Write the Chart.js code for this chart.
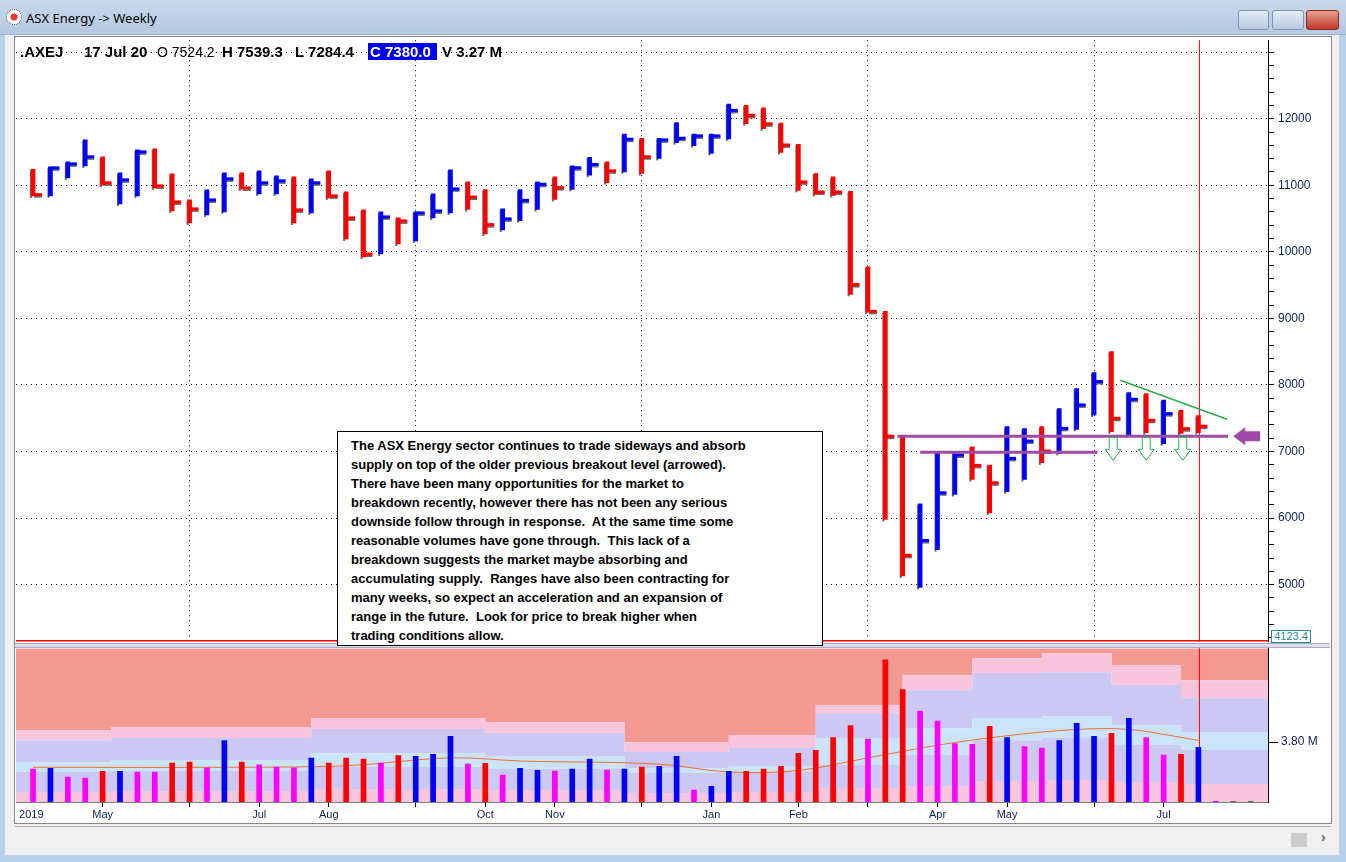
<!DOCTYPE html>
<html><head><meta charset="utf-8">
<script src="https://cdn.jsdelivr.net/npm/chart.js@4.4.1/dist/chart.umd.min.js"></script>
<style>
html,body{margin:0;padding:0;width:1346px;height:862px;overflow:hidden;background:#f0f0f0;font-family:"Liberation Sans",Arial,sans-serif}
#title{position:absolute;left:0;top:0;width:1346px;height:34px;background:linear-gradient(#c9d9ec,#b4c8e2);border-bottom:1px solid #9fb3cc;z-index:4}
#title .t{position:absolute;left:26px;top:9px;font:13px "Noto Sans",sans-serif;color:#000}
#icon{position:absolute;left:6px;top:9px;width:14px;height:14px;border-radius:50%;border:1px dotted #333;background:radial-gradient(circle,#e33 0 3px,#fff 4px)}
.btn{position:absolute;top:10px;height:18px;border:1px solid #7d93b0;border-radius:3px;background:linear-gradient(#e4edf8,#b7c9e0)}
#frameL{position:absolute;left:0;top:35px;width:5px;height:827px;background:#b9d1ea}
#frameR{position:absolute;right:0;top:35px;width:7px;height:827px;background:#b9d1ea}
#frameB{position:absolute;left:0;top:855px;width:1346px;height:7px;background:#b9d1ea}
#white{position:absolute;left:14px;top:36px;width:1316px;height:786px;background:#fff;border:1px solid #888}
#hdr{position:absolute;left:20px;top:43px;font:bold 15px "Liberation Sans",Arial;white-space:pre;color:#000;z-index:3}
#hdr span{position:absolute;top:0}
#box{position:absolute;left:337px;top:431px;width:457px;height:201px;border:1px solid #000;background:#fff;padding:4px 14px 8px 13px;font:bold 13px "Liberation Sans",Arial;line-height:19px;color:#000;white-space:nowrap;z-index:5}
#sep{position:absolute;left:15px;top:643px;width:1315px;height:3px;border-top:1px solid #aab;border-bottom:1px solid #aab;background:#dde;z-index:3}
#lbl4123{position:absolute;left:1271px;top:630px;width:38px;height:11px;border:1px solid #2a8a8a;background:#fff;font:11px "Liberation Sans";color:#2a8a8a;text-align:center;line-height:11px;overflow:hidden;z-index:3}
#scroll{position:absolute;left:15px;top:826px;width:1316px;height:24px;background:#f0f0f0;border-top:1px solid #aaa;z-index:3}
</style></head><body>
<div id="title"><div id="icon"></div><div class="t">ASX Energy -&gt; Weekly</div>
<div class="btn" style="left:1238px;width:29px"></div>
<div class="btn" style="left:1272px;width:30px"></div>
<div class="btn" style="left:1306px;width:31px;background:linear-gradient(#e8a090,#c0392b);border-color:#8a2a1a"></div>
</div>
<div id="frameL"></div><div id="frameR"></div><div id="frameB"></div>
<div id="white"></div>
<canvas id="pc" width="1314" height="624" style="position:absolute;left:16px;top:29px"></canvas>
<div id="sep"></div>
<div id="lbl4123">4123.4</div>
<canvas id="vc" width="1314" height="188" style="position:absolute;left:16px;top:638px"></canvas>
<div id="scroll"><div style="position:absolute;left:1276px;top:6px;width:16px;height:14px;background:#ccc"></div><div style="position:absolute;left:1306px;top:2px;font:bold 14px sans-serif;color:#666">&#8250;</div></div>
<div id="hdr"><span style="left:0">.AXEJ</span><span style="left:64px">17 Jul 20</span><span style="left:137px;font-weight:normal;font-size:14px;top:1px">O 7524.2</span><span style="left:202px">H 7539.3</span><span style="left:275px">L 7284.4</span><span style="left:348px;background:#0000f0;color:#fff;padding:0 6px 0 2px">C 7380.0</span><span style="left:422px">V 3.27 M</span></div>
<div id="box">The ASX Energy sector continues to trade sideways and absorb<br>supply on top of the older previous breakout level (arrowed).<br>There have been many opportunities for the market to<br>breakdown recently, however there has not been any serious<br>downside follow through in response.&nbsp; At the same time some<br>reasonable volumes have gone through.&nbsp; This lack of a<br>breakdown suggests the market maybe absorbing and<br>accumulating supply.&nbsp; Ranges have also been contracting for<br>many weeks, so expect an acceleration and an expansion of<br>range in the future.&nbsp; Look for price to break higher when<br>trading conditions allow.</div>
<script>
const opens=[11230,10850,11150,11300,11420,10730,10850,11540,11160,10770,10570,10610,11180,10880,10880,11120,10600,11210,10890,10620,9980,10500,10170,10520,10600,11000,10900,10400,10500,10700,11100,10980,11200,11300,11250,11650,11450,11700,11620,11700,11750,12180,12150,11900,11600,11150,11100,10900,9750,9090,7200,5100,5600,6450,7000,6750,6450,6700,7300,7000,7350,7700,8450,7400,7800,7200,7580,7524.2];
const highs=[11240,11277,11353,11684,11428,11187,11533,11548,11172,10780,10931,11187,11187,11217,11142,11127,11097,11217,10901,10630,10600,10510,10600,10871,11232,11051,10934,10646,10934,11051,11126,11293,11419,11354,11768,11707,11707,11944,11768,11768,12222,12202,12162,11934,11616,11177,11126,10909,9774,9105,7221,6214,7000,6992,7072,6796,7374,7343,7374,7645,7946,8187,8503,7886,7871,7771,7620,7539.3];
const lows=[10840,10841,11112,11292,11006,10720,10841,10961,10615,10434,10555,10600,10946,10871,10871,10434,10585,10810,10194,9923,9968,10118,10163,10510,10585,10636,10268,10328,10470,10636,10788,10939,11151,11040,11202,11177,11404,11641,11596,11480,11697,11924,11849,11495,10924,10864,10848,9362,9095,5980,5130,4959,5526,6354,6580,6078,6395,6580,6831,6972,7333,7549,7298,7233,7283,7118,7273,7284.4];
const closes=[10860,11262,11322,11428,11037,11082,11503,10991,10750,10645,10780,11097,10961,11037,11067,10630,11037,10841,10510,9968,10525,10465,10585,10615,10946,10823,10409,10495,10773,11015,10965,11263,11313,11217,11692,11429,11682,11707,11742,11742,12126,12051,11924,11606,11051,10899,10899,9508,9105,7230,5440,5662,6380,6947,6791,6530,6897,7157,7007,7348,7700,8051,7499,7785,7469,7569,7343,7380.0];
const volumes=[2.09,2.13,1.58,1.52,1.94,1.94,1.90,1.90,2.47,2.53,2.17,3.90,2.53,2.36,2.22,2.17,2.79,2.47,2.79,2.72,2.47,2.95,2.89,3.02,4.16,2.41,2.45,1.71,2.13,2.00,1.96,2.09,2.72,2.03,2.09,2.22,2.26,2.89,0.76,0.99,1.94,1.94,2.09,2.26,3.08,3.27,4.09,4.85,3.99,9.01,7.13,5.76,5.13,3.71,3.65,4.79,4.09,3.52,3.42,3.90,4.98,4.16,4.35,5.30,4.09,2.98,3.02,3.46,0.05,0.05,0.05];
const volKind=['m','b','m','m','r','b','m','m','r','r','m','b','r','m','m','m','b','r','r','r','m','r','b','b','b','m','r','m','b','b','m','b','b','m','b','r','b','b','m','b','b','r','r','r','r','r','r','r','m','r','r','m','m','m','m','r','b','m','m','b','b','b','r','b','m','m','r','b','m','g','g'];
const bandIdx=[-1,10,22,30,38,42,48,52,56,60,64,68,71.5];
const band1=[4.56,4.75,5.32,5.06,3.80,4.24,6.14,8.04,9.12,9.43,8.67,7.72,7.72];
const band2=[3.92,4.05,4.62,4.37,3.17,3.42,5.63,7.09,8.17,8.23,7.41,6.58,6.58];
const band3=[2.53,2.66,3.10,2.91,2.15,2.28,4.05,4.68,5.32,5.44,4.87,4.43,4.43];
const band4=[1.90,1.96,2.22,2.09,1.84,1.90,2.34,2.98,3.92,4.05,3.61,3.29,3.29];
const band5=[0.63,0.70,0.82,0.76,0.57,0.63,0.89,1.01,1.33,1.39,1.27,1.14,1.14];
const maIdx=[0,10,18,24,28,36,40,44,48,52,56,60,63,66,67];
const maVals=[2.2,2.2,2.3,2.8,2.6,2.4,1.9,2.0,2.8,3.6,4.2,4.6,4.6,4.1,3.9];
const monthTicks={'-0.1':'2019','4':'May','9':'','13':'Jul','17':'Aug','22':'','26':'Oct','30':'Nov','35':'','39':'Jan','44':'Feb','48':'','52':'Apr','56':'May','61':'','65':'Jul'};
const quarterIdx=[9,22,35,48,61];
const supportLevel=7230, oldLevel=6990, currentIdx=67;

const RED='#ff0000',BLUE='#0000ff',MAG='#ff00ff';
const XMIN=-0.98,XMAX=71.0;
const tickFont={family:'"Liberation Sans",Arial',size:12};

const pricePlugin={id:'pp',
 beforeDatasetsDraw(c){const ctx=c.ctx,x=c.scales.x,y=c.scales.y;ctx.save();ctx.fillStyle='#6a6a6a';
  highs.forEach((h,i)=>{const px=x.getPixelForValue(i);const t=y.getPixelForValue(h),b=y.getPixelForValue(lows[i]);ctx.fillRect(px-3,t+1,2,b-t+1);const cy=y.getPixelForValue(closes[i]);ctx.fillRect(px+1,cy+0.5,8,2.5);});ctx.restore();},
 afterDatasetsDraw(c){const ctx=c.ctx,x=c.scales.x,y=c.scales.y,a=c.chartArea;ctx.save();
  closes.forEach((v,i)=>{const px=x.getPixelForValue(i),cy=y.getPixelForValue(v);ctx.fillStyle=v>=opens[i]?BLUE:RED;ctx.fillRect(px+1,cy-1.5,8,3);});
  const cx=x.getPixelForValue(currentIdx)+1;ctx.strokeStyle=RED;ctx.lineWidth=1;ctx.beginPath();ctx.moveTo(cx,a.top);ctx.lineTo(cx,a.bottom);ctx.stroke();
  ctx.strokeStyle='#a04aa8';ctx.lineWidth=3;
  let ys=y.getPixelForValue(supportLevel);ctx.beginPath();ctx.moveTo(x.getPixelForValue(49.7),ys);ctx.lineTo(x.getPixelForValue(68.7),ys);ctx.stroke();
  let yo=y.getPixelForValue(oldLevel);ctx.beginPath();ctx.moveTo(x.getPixelForValue(51),yo);ctx.lineTo(x.getPixelForValue(61.2),yo);ctx.stroke();
  const ax=x.getPixelForValue(69.0);ctx.fillStyle='#a04aa8';ctx.beginPath();ctx.moveTo(ax,ys);ctx.lineTo(ax+12,ys-9);ctx.lineTo(ax+12,ys-5);ctx.lineTo(ax+27,ys-5);ctx.lineTo(ax+27,ys+5);ctx.lineTo(ax+12,ys+5);ctx.lineTo(ax+12,ys+9);ctx.closePath();ctx.fill();
  ctx.strokeStyle='#2eaa4a';ctx.lineWidth=1.5;ctx.setLineDash([]);ctx.beginPath();ctx.moveTo(x.getPixelForValue(62.5),y.getPixelForValue(8071));ctx.lineTo(x.getPixelForValue(68.65),y.getPixelForValue(7484));ctx.stroke();
  ctx.lineWidth=1;ctx.fillStyle='#fff';
  [62.1,64.0,66.1].forEach(k=>{const gx=x.getPixelForValue(k),gt=y.getPixelForValue(7213);ctx.beginPath();ctx.moveTo(gx-4,gt);ctx.lineTo(gx+4,gt);ctx.lineTo(gx+4,gt+12);ctx.lineTo(gx+8,gt+12);ctx.lineTo(gx,gt+23);ctx.lineTo(gx-8,gt+12);ctx.lineTo(gx-4,gt+12);ctx.closePath();ctx.fill();ctx.stroke();});
  ctx.strokeStyle=RED;ctx.lineWidth=1.5;ctx.beginPath();ctx.moveTo(a.left,a.bottom-1);ctx.lineTo(a.right,a.bottom-1);ctx.stroke();
  ctx.restore();}};

new Chart(document.getElementById('pc'),{type:'bar',
 data:{datasets:[{data:highs.map((h,i)=>({x:i,y:[lows[i],h]})),backgroundColor:closes.map((v,i)=>v>=opens[i]?BLUE:RED),barThickness:4,borderWidth:0}]},
 options:{responsive:false,animation:false,devicePixelRatio:1,layout:{padding:0},
  plugins:{legend:{display:false},tooltip:{enabled:false}},
  scales:{
   x:{type:'linear',offset:false,min:XMIN,max:XMAX,afterBuildTicks:s=>{s.ticks=quarterIdx.map(v=>({value:v}));},
      ticks:{display:false},grid:{offset:false,color:'#000',lineWidth:1,drawTicks:false},border:{display:false,dash:[1,4]},afterFit:s=>{s.height=0;}},
   y:{position:'right',min:4141,max:13180,
      afterBuildTicks:s=>{const t=[];for(let v=4200;v<=13000;v+=200)t.push({value:v});s.ticks=t;},
      afterFit:s=>{s.width=62;},
      ticks:{autoSkip:false,font:tickFont,color:'#10205a',padding:4,callback:v=>(v%1000===0&&v<=12000)?String(v):''},
      grid:{color:ctx=>ctx.tick&&ctx.tick.value%1000===0?'#000':'rgba(0,0,0,0)',tickColor:'#000',tickLength:6,lineWidth:1},
      border:{display:true,color:'#000',dash:[1,4]}}
  }},plugins:[pricePlugin]});

const volColor={m:MAG,b:BLUE,r:RED,g:'#666'};
const bandDs=(arr,col,fill)=>({type:'line',data:bandIdx.map((k,i)=>({x:k,y:arr[i]})),stepped:'middle',borderWidth:0,pointRadius:0,backgroundColor:col,fill:fill,order:10});
const volPlugin={id:'vp',afterDatasetsDraw(c){const ctx=c.ctx,x=c.scales.x,y=c.scales.y,a=c.chartArea;ctx.save();
 const cx=x.getPixelForValue(currentIdx)+1;ctx.strokeStyle=RED;ctx.lineWidth=1;ctx.beginPath();ctx.moveTo(cx,a.top);ctx.lineTo(cx,y.getPixelForValue(volumes[currentIdx]));ctx.stroke();ctx.restore();}};

new Chart(document.getElementById('vc'),{type:'bar',
 data:{datasets:[
  {type:'bar',data:volumes.map((v,i)=>({x:i,y:v})),backgroundColor:volKind.map(k=>volColor[k]),barThickness:5,borderWidth:0,order:0},
  {type:'line',data:maIdx.map((k,i)=>({x:k,y:maVals[i]})),borderColor:'#f07030',borderWidth:1,pointRadius:0,tension:0.35,fill:false,order:1},
  bandDs(band5,'#f8c6dc','origin'),
  bandDs(band4,'#cbc8f3','-1'),
  bandDs(band3,'#cce4fa','-1'),
  bandDs(band2,'#cbc8f3','-1'),
  bandDs(band1,'#f8c6dc','-1'),
  bandDs(band1.map(()=>9.75),'#f29a92','-1')
 ]},
 options:{responsive:false,animation:false,devicePixelRatio:1,layout:{padding:0},
  plugins:{legend:{display:false},tooltip:{enabled:false}},
  scales:{
   x:{type:'linear',offset:false,min:XMIN,max:XMAX,afterBuildTicks:s=>{s.ticks=Object.keys(monthTicks).map(k=>({value:+k}));},
      afterFit:s=>{s.height=24;},
      ticks:{font:{family:'"Liberation Sans",Arial',size:11},color:'#10205a',padding:1,maxRotation:0,autoSkip:false,callback:v=>monthTicks[String(v)]??''},
      grid:{offset:false,drawOnChartArea:false,color:ctx=>ctx.tick&&ctx.tick.value<0?'rgba(0,0,0,0)':'#000',tickLength:5},border:{display:true,color:'#000',width:1.5}},
   y:{position:'right',min:0,max:9.75,afterBuildTicks:s=>{s.ticks=[{value:3.8}];},afterFit:s=>{s.width=62;},
      ticks:{font:tickFont,color:'#10205a',padding:3,callback:v=>v.toFixed(2)+' M'},
      grid:{drawOnChartArea:false,color:'#000',tickLength:10},border:{display:true,color:'#000'}}
  }},plugins:[volPlugin]});
</script></body></html>
